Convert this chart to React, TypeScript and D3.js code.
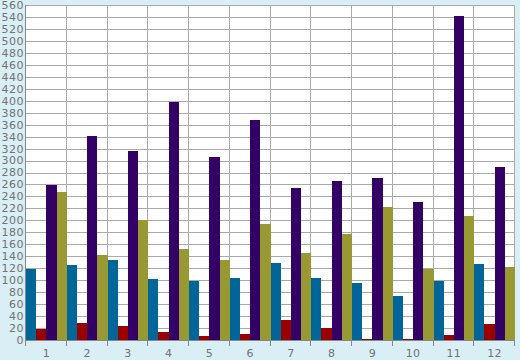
import { useMemo } from 'react';
import * as d3 from 'd3';

const categories = ['1', '2', '3', '4', '5', '6', '7', '8', '9', '10', '11', '12'];
const seriesNames = ['A', 'B', 'C', 'D'];
const blueValues = [119, 125, 134, 102, 99, 104, 129, 104, 95, 74, 99, 127];
const redValues = [18, 28, 23, 13, 7, 10, 33, 20, 2, 2, 8, 27];
const purpleValues = [259, 341, 316, 398, 306, 368, 254, 266, 271, 231, 542, 289];
const oliveValues = [247, 142, 201, 152, 134, 194, 145, 177, 222, 119, 207, 122];
const yTicks = d3.range(0, 561, 20);
const colors = ['#006699', '#990000', '#330066', '#999933'];

const width = 520;
const height = 360;
const plotLeft = 26;
const plotRight = 515;
const plotTop = 5;
const plotBottom = 340;

const App = () => {
  const series = [blueValues, redValues, purpleValues, oliveValues];

  const xScale = useMemo(() => d3.scaleBand()
    .domain(categories)
    .range([plotLeft, plotRight])
    .padding(0), []);

  const innerScale = useMemo(() => d3.scaleBand()
    .domain(seriesNames)
    .range([0, xScale.bandwidth()])
    .padding(0), [xScale]);

  const yScale = useMemo(() => d3.scaleLinear()
    .domain([0, 560])
    .range([plotBottom, plotTop]), []);

  const crisp = (v: number) => Math.round(v) + 0.5;

  return (
    <svg
      width={width}
      height={height}
      style={{ position: 'fixed', top: 0, left: 0, display: 'block' }}
      fontFamily="DejaVu Sans"
    >
      <rect x={0} y={0} width={width} height={height} fill="#d9eef5" />
      <rect x={plotLeft} y={plotTop} width={plotRight - plotLeft} height={plotBottom - plotTop} fill="#fff" />

      {/* grid */}
      <g stroke="#aaaaaa" strokeWidth={1}>
        {yTicks.map(t => (
          <line key={t} x1={plotLeft} x2={plotRight} y1={crisp(yScale(t))} y2={crisp(yScale(t))} />
        ))}
        {d3.range(categories.length + 1).map(i => {
          const x = crisp(plotLeft + i * xScale.step()) - 1;
          return <line key={i} x1={x} x2={x} y1={plotTop} y2={plotBottom} />;
        })}
      </g>

      {/* bars */}
      <g shapeRendering="crispEdges">
        {categories.map((c, i) => (
          <g key={c} transform={`translate(${xScale(c)}, 0)`}>
            {series.map((vals, s) => (
              <rect
                key={s}
                x={innerScale(seriesNames[s])}
                y={yScale(vals[i])}
                width={innerScale.bandwidth()}
                height={plotBottom - yScale(vals[i])}
                fill={colors[s]}
              />
            ))}
          </g>
        ))}
      </g>

      {/* axes */}
      <g stroke="#888" strokeWidth={1}>
        <line x1={plotLeft - 0.5} x2={plotLeft - 0.5} y1={plotTop} y2={plotBottom + 1} />
        <line x1={plotLeft} x2={plotRight} y1={plotBottom + 0.5} y2={plotBottom + 0.5} />
        {d3.range(categories.length + 1).map(i => {
          const x = crisp(plotLeft + i * xScale.step()) - 1;
          return <line key={i} x1={x} x2={x} y1={plotBottom} y2={plotBottom + 6} />;
        })}
      </g>

      <g fill="#737373" fontSize={11} letterSpacing={0.5}>
        {yTicks.map(t => (
          <text key={t} x={plotLeft - 2} y={yScale(t)} dy="0.36em" textAnchor="end">{t}</text>
        ))}
        {categories.map(c => (
          <text key={c} x={(xScale(c) ?? 0) + xScale.bandwidth() / 2} y={357} textAnchor="middle">{c}</text>
        ))}
      </g>
    </svg>
  );
};

export default App;
